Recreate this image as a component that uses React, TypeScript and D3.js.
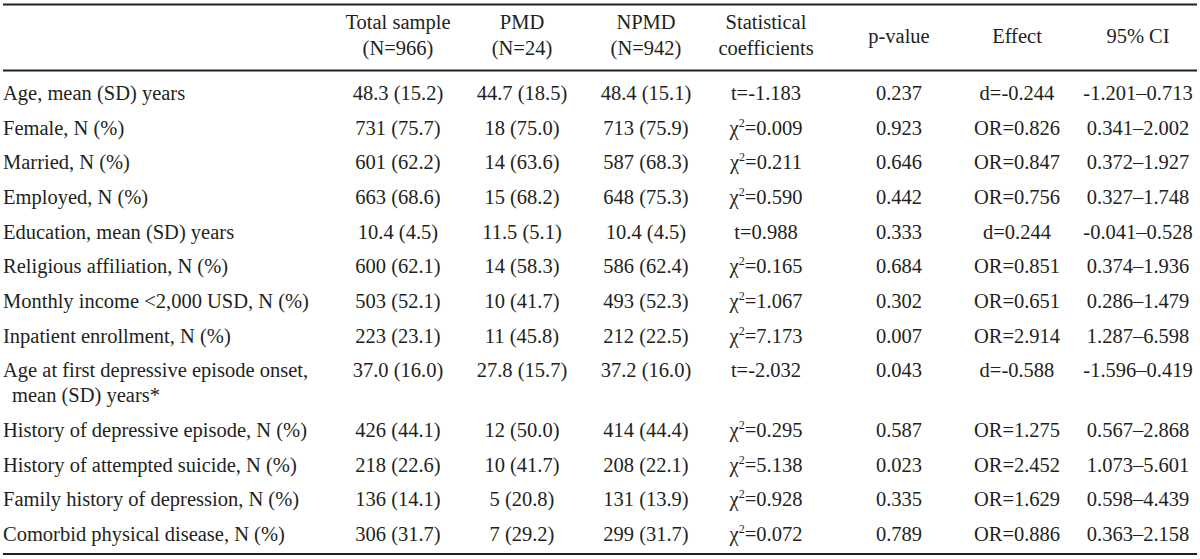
import React from "react";
import * as d3 from "d3";

const rowLabels: string[][] = [
  ["Age, mean (SD) years"],
  ["Female, N (%)"],
  ["Married, N (%)"],
  ["Employed, N (%)"],
  ["Education, mean (SD) years"],
  ["Religious affiliation, N (%)"],
  ["Monthly income <2,000 USD, N (%)"],
  ["Inpatient enrollment, N (%)"],
  ["Age at first depressive episode onset,", "mean (SD) years*"],
  ["History of depressive episode, N (%)"],
  ["History of attempted suicide, N (%)"],
  ["Family history of depression, N (%)"],
  ["Comorbid physical disease, N (%)"],
];

const totalSample = ["48.3 (15.2)", "731 (75.7)", "601 (62.2)", "663 (68.6)", "10.4 (4.5)", "600 (62.1)", "503 (52.1)", "223 (23.1)", "37.0 (16.0)", "426 (44.1)", "218 (22.6)", "136 (14.1)", "306 (31.7)"];
const pmd = ["44.7 (18.5)", "18 (75.0)", "14 (63.6)", "15 (68.2)", "11.5 (5.1)", "14 (58.3)", "10 (41.7)", "11 (45.8)", "27.8 (15.7)", "12 (50.0)", "10 (41.7)", "5 (20.8)", "7 (29.2)"];
const npmd = ["48.4 (15.1)", "713 (75.9)", "587 (68.3)", "648 (75.3)", "10.4 (4.5)", "586 (62.4)", "493 (52.3)", "212 (22.5)", "37.2 (16.0)", "414 (44.4)", "208 (22.1)", "131 (13.9)", "299 (31.7)"];
const statCoef = ["t=-1.183", "χ2=0.009", "χ2=0.211", "χ2=0.590", "t=0.988", "χ2=0.165", "χ2=1.067", "χ2=7.173", "t=-2.032", "χ2=0.295", "χ2=5.138", "χ2=0.928", "χ2=0.072"];
const pValue = ["0.237", "0.923", "0.646", "0.442", "0.333", "0.684", "0.302", "0.007", "0.043", "0.587", "0.023", "0.335", "0.789"];
const effect = ["d=-0.244", "OR=0.826", "OR=0.847", "OR=0.756", "d=0.244", "OR=0.851", "OR=0.651", "OR=2.914", "d=-0.588", "OR=1.275", "OR=2.452", "OR=1.629", "OR=0.886"];
const ci = ["-1.201–0.713", "0.341–2.002", "0.372–1.927", "0.327–1.748", "-0.041–0.528", "0.374–1.936", "0.286–1.479", "1.287–6.598", "-1.596–0.419", "0.567–2.868", "1.073–5.601", "0.598–4.439", "0.363–2.158"];

const columnKeys = ["total", "pmd", "npmd", "stat", "p", "effect", "ci"];
const headerLines: string[][] = [
  ["Total sample", "(N=966)"],
  ["PMD", "(N=24)"],
  ["NPMD", "(N=942)"],
  ["Statistical", "coefficients"],
  ["p-value"],
  ["Effect"],
  ["95% CI"],
];
const columns = [totalSample, pmd, npmd, statCoef, pValue, effect, ci];

const W = 1200;
const H = 559;
const FONT = "'Liberation Serif', 'Times New Roman', serif";
const FS = 20.5;
const COLOR = "#231f20";

export default function App() {
  const xCol = d3.scaleOrdinal<string, number>().domain(columnKeys).range([398, 522, 646, 766, 899, 1017, 1138]);
  const xRule = d3.scaleLinear().domain([0, 1]).range([3, 1197]);

  const wrapFrac = 0.72;
  const units = rowLabels.map((l) => 1 + (l.length - 1) * wrapFrac);
  const starts: number[] = [];
  let acc = 0;
  units.forEach((u) => { starts.push(acc); acc += u; });
  const y = d3.scaleLinear().domain([0, acc]).range([76, 552]);
  const rowH = y(1) - y(0);
  const baseline = (i: number) => y(starts[i] + 0.5) + 6.5;

  const renderStat = (s: string) => {
    if (s.startsWith("χ2")) {
      return (
        <>
          χ<tspan fontSize={12} dy={-8}>2</tspan><tspan dy={8}>{s.slice(2)}</tspan>
        </>
      );
    }
    return s;
  };

  return (
    <svg width={W} height={H} style={{ position: "absolute", left: 0, top: 0, background: "#fff" }} fontFamily={FONT} fontSize={FS} fill={COLOR}>
      <rect x={0} y={0} width={W} height={H} fill="#fff" />
      <line x1={xRule(0)} x2={xRule(1)} y1={4.5} y2={4.5} stroke={COLOR} strokeWidth={2} />
      <line x1={xRule(0)} x2={xRule(1)} y1={70.5} y2={70.5} stroke={COLOR} strokeWidth={1.8} />
      <line x1={xRule(0)} x2={xRule(1)} y1={554} y2={554} stroke={COLOR} strokeWidth={2} />
      {headerLines.map((lines, c) => (
        <g key={"h" + c}>
          {lines.map((t, k) => (
            <text key={k} x={xCol(columnKeys[c])} y={lines.length === 1 ? 43 : 29 + k * 26} textAnchor="middle">{t}</text>
          ))}
        </g>
      ))}
      {rowLabels.map((lines, i) => (
        <g key={"r" + i}>
          {lines.map((t, k) => (
            <text key={k} x={k === 0 ? 3 : 12} y={baseline(i) + k * rowH * wrapFrac}>{t}</text>
          ))}
          {columns.map((col, c) => (
            <text key={c} x={xCol(columnKeys[c])} y={baseline(i)} textAnchor="middle">{c === 3 ? renderStat(col[i]) : col[i]}</text>
          ))}
        </g>
      ))}
    </svg>
  );
}
